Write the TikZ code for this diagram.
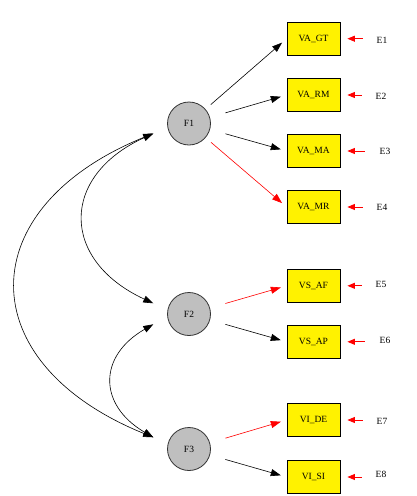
\documentclass[tikz,border=0pt]{standalone}
\usepackage{fontspec}
\setmainfont{Liberation Serif}
\usetikzlibrary{arrows.meta}
\begin{document}
\begin{tikzpicture}[x=1pt,y=-1pt,
  every node/.style={font=\fontsize{9.5}{10}\selectfont},
  obs/.style={draw=black,line width=0.8pt,fill=yellow,minimum width=53pt,minimum height=33pt,inner sep=0pt},
  lat/.style={circle,draw=black!80,line width=0.8pt,fill=black!25,minimum size=43pt,inner sep=0pt},
  errlbl/.style={inner sep=0pt},
  ld/.style={line width=0.6pt,-{Triangle[length=10pt,width=7pt]},shorten >=6pt},
  ldr/.style={ld,draw=red,-{Triangle[length=10pt,width=7pt,fill=red]}},
  err/.style={red,line width=0.8pt,-{Triangle[length=7.5pt,width=6pt]},shorten >=7pt},
  cov/.style={line width=0.6pt,{Triangle[length=10pt,width=7pt]}-{Triangle[length=10pt,width=7pt]}}]
\useasboundingbox (0,0) rectangle (417,496);
% latent
\node[lat] (F1) at (189,123.5) {F1};
\node[lat] (F2) at (189,314) {F2};
\node[lat] (F3) at (189,449) {F3};
% observed
\node[obs] (GT) at (313.5,38.7) {VA\_GT};
\node[obs] (RM) at (313.5,95) {VA\_RM};
\node[obs] (MA) at (313.5,151) {VA\_MA};
\node[obs] (MR) at (313.5,207) {VA\_MR};
\node[obs] (AF) at (313.5,285.8) {VS\_AF};
\node[obs] (AP) at (313.5,341.8) {VS\_AP};
\node[obs] (DE) at (313.5,420) {VI\_DE};
\node[obs] (SI) at (313.5,477) {VI\_SI};
% errors
\node[errlbl] (E1) at (382,40.7) {E1};
\node[errlbl] (E2) at (381,96.7) {E2};
\node[errlbl] (E3) at (385,151.3) {E3};
\node[errlbl] (E4) at (382,207.7) {E4};
\node[errlbl] (E5) at (381,284.3) {E5};
\node[errlbl] (E6) at (385,340) {E6};
\node[errlbl] (E7) at (382,421.7) {E7};
\node[errlbl] (E8) at (381,474.3) {E8};
% loadings
\draw[ld,shorten <=7pt] (F1) -- (GT.west);
\draw[ld,shorten <=16pt] (F1) -- (RM.west);
\draw[ld,shorten <=16pt] (F1) -- (MA.west);
\draw[ldr,shorten <=7pt] (F1) -- (MR.west);
\draw[ldr,shorten <=16pt] (F2) -- (AF.west);
\draw[ld,shorten <=16pt] (F2) -- (AP.west);
\draw[ldr,shorten <=16pt] (F3) -- (DE.west);
\draw[ld,shorten <=16pt] (F3) -- (SI.west);
% error arrows
\draw[err,shorten <=14pt] (E1.west |- GT.east) -- (GT.east);
\draw[err,shorten <=14pt] (E2.west |- RM.east) -- (RM.east);
\draw[err,shorten <=15pt] (E3.west |- MA.east) -- (MA.east);
\draw[err,shorten <=14pt] (E4.west |- MR.east) -- (MR.east);
\draw[err,shorten <=14pt] (E5.west |- AF.east) -- (AF.east);
\draw[err,shorten <=15pt] (E6.west |- AP.east) -- (AP.east);
\draw[err,shorten <=14pt] (E7.west |- DE.east) -- (DE.east);
\draw[err,shorten <=14pt] (E8.west |- SI.east) -- (SI.east);
% covariances
\coordinate (F1c) at (153.3,133.5);
\coordinate (F2a) at (153.3,303.3);
\coordinate (F2b) at (153.3,324.3);
\coordinate (F3c) at (153.3,437.3);
\draw[cov] (F1c) .. controls (60,176) and (60,260) .. (F2a);
\draw[cov] (F1c) .. controls (-30,208) and (-30,363) .. (F3c);
\draw[cov] (F2b) .. controls (98,356) and (98,405) .. (F3c);
\end{tikzpicture}
\end{document}
